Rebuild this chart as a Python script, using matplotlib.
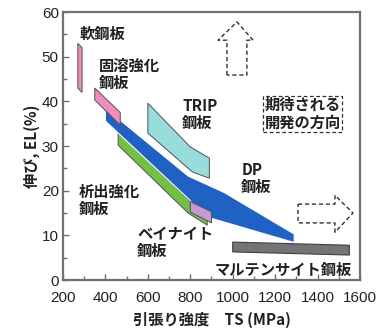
import numpy as np
import matplotlib.pyplot as plt
from matplotlib.ticker import MultipleLocator

plt.rcParams['font.family'] = ['Liberation Sans', 'Noto Sans CJK JP', 'DejaVu Sans']

# steel regions on the TS-EL map (TS in MPa, EL in %)
mild_ts = [270, 290, 290, 270]
mild_el = [53.0, 52.0, 42.0, 43.0]

solid_ts = [350, 470, 470, 350]
solid_el = [43.0, 37.5, 34.7, 40.3]

dp_ts = [400, 790, 960, 1290, 1290, 850, 800, 400]
dp_el = [38.5, 23.3, 19.6, 10.3, 8.4, 14.5, 17.8, 35.6]

precip_ts = [460, 800, 880, 880, 790, 460]
precip_el = [33.3, 17.6, 13.8, 12.3, 15.0, 30.2]

bainite_ts = [800, 900, 900, 800]
bainite_el = [17.6, 15.3, 12.8, 15.2]

trip_ts = [600, 800, 890, 890, 810, 600]
trip_el = [39.6, 29.8, 27.3, 22.8, 24.2, 32.9]

mart_ts = [1000, 1550, 1550, 1000]
mart_el = [8.5, 7.8, 5.6, 6.3]

x_ticks = [200, 400, 600, 800, 1000, 1200, 1400, 1600]
y_ticks = [0, 10, 20, 30, 40, 50, 60]

fig = plt.figure(figsize=(3.9, 3.35), dpi=100)
ax = fig.add_axes([0.1615, 0.164, 0.7615, 0.8])

edge = '#505050'
ax.fill(precip_ts, precip_el, fc='#74c044', ec=edge, lw=0.7, zorder=2)
ax.fill(mart_ts, mart_el, fc='#747474', ec='#404040', lw=0.8, zorder=2)
ax.fill(dp_ts, dp_el, fc='#2062c4', ec='white', lw=0.8, zorder=3)
ax.fill(bainite_ts, bainite_el, fc='#c49ad4', ec=edge, lw=0.7, zorder=4)
ax.fill(solid_ts, solid_el, fc='#f08cbe', ec=edge, lw=0.7, zorder=4)
ax.fill(mild_ts, mild_el, fc='#f08cbe', ec=edge, lw=0.7, zorder=4)
ax.fill(trip_ts, trip_el, fc='#98dcdc', ec=edge, lw=0.7, zorder=4)

# dashed "direction" arrows
up_x = [973, 973, 931, 1020, 1096, 1067, 1067, 973]
up_y = [45.9, 53.7, 53.7, 57.8, 53.7, 53.7, 45.9, 45.9]
ax.plot(up_x, up_y, ls=(0, (3, 2)), color='#303030', lw=1.0, zorder=5)
rt_x = [1308, 1482, 1482, 1567, 1482, 1482, 1308, 1308]
rt_y = [17.0, 17.0, 19.0, 15.0, 10.7, 12.8, 12.8, 17.0]
ax.plot(rt_x, rt_y, ls=(0, (3, 2)), color='#303030', lw=1.0, zorder=5)

jp = dict(family=['Noto Sans CJK JP', 'DejaVu Sans'], fontsize=11, fontweight='bold',
          color='#202020', linespacing=1.1, zorder=6)
ax.text(280, 55.2, '軟鋼板', va='center', ha='left', **jp)
ax.text(370, 49.8, '固溶強化\n鋼板', va='top', ha='left', **jp)
ax.text(762, 40.8, 'TRIP\n鋼板', va='top', ha='left', **jp)
ax.text(1040, 26.5, 'DP\n鋼板', va='top', ha='left', **jp)
ax.text(276, 21.5, '析出強化\n鋼板', va='top', ha='left', **jp)
ax.text(550, 12.1, 'ベイナイト\n鋼板', va='top', ha='left', **jp)
ax.text(1562, 2.3, 'マルテンサイト鋼板', va='center', ha='right', **jp)
ax.text(1150, 40.9, '期待される\n開発の方向', va='top', ha='left',
        bbox=dict(boxstyle='square,pad=0.1', fc='white', ec='#303030',
                  ls=(0, (3, 2)), lw=0.9), **jp)

ax.set_xlim(200, 1600)
ax.set_ylim(0, 60)
ax.set_xticks(x_ticks)
ax.set_yticks(y_ticks)
ax.xaxis.set_minor_locator(MultipleLocator(100))
ax.yaxis.set_minor_locator(MultipleLocator(5))
ax.tick_params(which='both', direction='in', color='#707070', width=1.0,
               labelsize=11, labelcolor='#222222')
ax.tick_params(axis='x', pad=8)
ax.tick_params(axis='y', pad=3)
ax.tick_params(which='major', length=4)
ax.tick_params(which='minor', length=3)
for s in ax.spines.values():
    s.set_color('#707070')
    s.set_linewidth(1.6)

ax.set_xlabel('引張り強度\u3000TS (MPa)', family=['Noto Sans CJK JP', 'DejaVu Sans'],
              fontsize=11, fontweight='bold', color='#222222', labelpad=5)
ax.set_ylabel('伸び, EL(%)', family=['Noto Sans CJK JP', 'DejaVu Sans'],
              fontsize=11, fontweight='bold', color='#222222', labelpad=1)

fig.savefig('out.png', dpi=100)
